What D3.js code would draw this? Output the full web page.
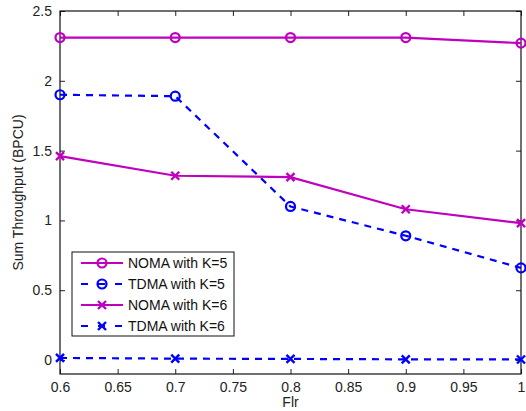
<!DOCTYPE html>
<html>
<head>
<meta charset="utf-8">
<script src="https://cdn.jsdelivr.net/npm/d3@7"></script>
<style>
  body { margin: 0; background: #fff; }
  svg { font-family: "Liberation Sans", Arial, sans-serif; }
</style>
</head>
<body>
<div id="chart"></div>
<script>
const flr = [0.6, 0.7, 0.8, 0.9, 1.0];
const nomaK5 = [2.31, 2.31, 2.31, 2.31, 2.27];
const tdmaK5 = [1.90, 1.89, 1.10, 0.89, 0.66];
const nomaK6 = [1.46, 1.32, 1.31, 1.08, 0.98];
const tdmaK6 = [0.015, 0.01, 0.008, 0.005, 0.004];
const xTicks = [0.6, 0.65, 0.7, 0.75, 0.8, 0.85, 0.9, 0.95, 1];
const yTicks = [0, 0.5, 1, 1.5, 2, 2.5];

const magenta = '#bf00bf';
const blue = '#0000ff';

const series = [
  { name: 'NOMA with K=5', values: nomaK5, color: magenta, dash: null, marker: 'circle' },
  { name: 'TDMA with K=5', values: tdmaK5, color: blue, dash: '7,6', marker: 'circle' },
  { name: 'NOMA with K=6', values: nomaK6, color: magenta, dash: null, marker: 'x' },
  { name: 'TDMA with K=6', values: tdmaK6, color: blue, dash: '7,6', marker: 'x' },
];

const width = 526, height = 411;
const margin = { left: 60, right: 5, top: 11, bottom: 37 };
const fontSize = 14;

const svg = d3.select('#chart').append('svg')
  .attr('width', width)
  .attr('height', height);

const fx = d3.scaleLinear().domain([0.6, 1]).range([margin.left, width - margin.right]);
const fy = d3.scaleLinear().domain([-0.1, 2.5]).range([height - margin.bottom, margin.top]);

const x0 = fx.range()[0], x1 = fx.range()[1];
const y0 = fy.range()[0], y1 = fy.range()[1];

// axes, ticks inside
const tickLen = 5;
svg.append('g')
  .attr('transform', `translate(0,${y0})`)
  .call(d3.axisBottom(fx).tickValues(xTicks).tickSizeInner(-tickLen).tickSizeOuter(0).tickPadding(8)
    .tickFormat(d => String(+d.toFixed(2))));
svg.append('g')
  .attr('transform', `translate(0,${y1})`)
  .call(d3.axisTop(fx).tickValues(xTicks).tickSizeInner(-tickLen).tickSizeOuter(0).tickFormat(''));
svg.append('g')
  .attr('transform', `translate(${x0},0)`)
  .call(d3.axisLeft(fy).tickValues(yTicks).tickSizeInner(-tickLen).tickSizeOuter(0).tickPadding(8)
    .tickFormat(d => String(d)));
svg.append('g')
  .attr('transform', `translate(${x1},0)`)
  .call(d3.axisRight(fy).tickValues(yTicks).tickSizeInner(-tickLen).tickSizeOuter(0).tickFormat(''));

svg.selectAll('.domain').remove();
svg.selectAll('.tick line').attr('stroke', '#222');
svg.selectAll('.tick text').attr('font-size', fontSize).attr('fill', '#222')
  .attr('font-family', '"Liberation Sans", Arial, sans-serif');

svg.append('rect')
  .attr('x', x0).attr('y', y1)
  .attr('width', x1 - x0).attr('height', y0 - y1)
  .attr('fill', 'none').attr('stroke', '#111').attr('stroke-width', 1.2);

// labels
svg.append('text')
  .attr('x', (x0 + x1) / 2).attr('y', 407)
  .attr('text-anchor', 'middle').attr('font-size', fontSize).attr('fill', '#222')
  .text('Flr');
svg.append('text')
  .attr('transform', `translate(23,${(y0 + y1) / 2}) rotate(-90)`)
  .attr('text-anchor', 'middle').attr('font-size', fontSize).attr('fill', '#222')
  .text('Sum Throughput (BPCU)');

function drawMarker(g, type, x, y, color) {
  if (type === 'circle') {
    g.append('circle').attr('cx', x).attr('cy', y).attr('r', 4.5)
      .attr('fill', 'none').attr('stroke', color).attr('stroke-width', 2.2);
  } else {
    const s = 4;
    g.append('path')
      .attr('d', `M${x - s},${y - s}L${x + s},${y + s}M${x - s},${y + s}L${x + s},${y - s}`)
      .attr('stroke', color).attr('stroke-width', 2.4).attr('fill', 'none');
  }
}

const line = d3.line().x((d, i) => fx(flr[i])).y(d => fy(d));

series.forEach(s => {
  const g = svg.append('g');
  g.append('path')
    .attr('d', line(s.values))
    .attr('fill', 'none')
    .attr('stroke', s.color)
    .attr('stroke-width', 2.2)
    .attr('stroke-dasharray', s.dash);
  s.values.forEach((v, i) => drawMarker(g, s.marker, fx(flr[i]), fy(v), s.color));
});

// legend
const lg = svg.append('g').attr('transform', 'translate(72,252)');
lg.append('rect').attr('width', 162).attr('height', 84)
  .attr('fill', '#fff').attr('stroke', '#111').attr('stroke-width', 1);
series.forEach((s, i) => {
  const y = 11 + i * 21;
  lg.append('line').attr('x1', 9).attr('x2', 51).attr('y1', y).attr('y2', y)
    .attr('stroke', s.color).attr('stroke-width', 2.2).attr('stroke-dasharray', s.dash ? '7,10' : null);
  drawMarker(lg, s.marker, 30, y, s.color);
  lg.append('text').attr('x', 56).attr('y', y + 5)
    .attr('font-size', fontSize).attr('fill', '#111').text(s.name);
});
</script>
</body>
</html>
